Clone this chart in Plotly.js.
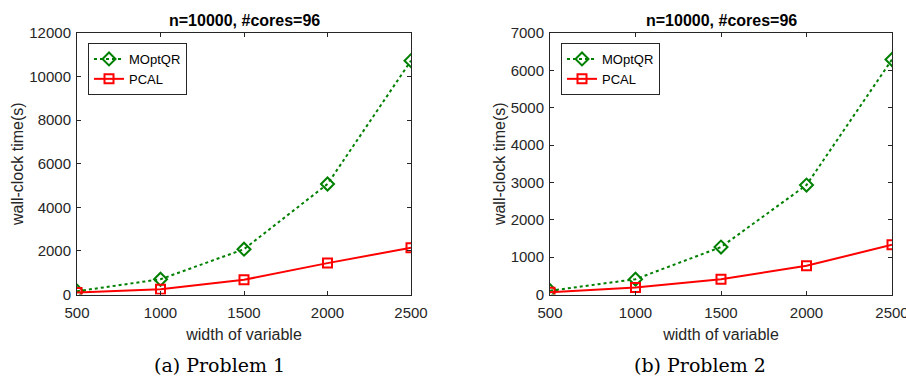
<!DOCTYPE html>
<html>
<head>
<meta charset="utf-8">
<script src="https://cdn.plot.ly/plotly-3.0.1.min.js"></script>
<style>html,body{margin:0;padding:0;background:#fff;}#chart{width:906px;height:377px;}</style>
</head>
<body>
<div id="chart"></div>
<script>
const widths = [500, 1000, 1500, 2000, 2500];
const xTickVals = [500, 1000, 1500, 2000, 2500];
const xTickText = ["500", "1000", "1500", "2000", "2500"];

const p1MOptQR = [150, 700, 2080, 5070, 10730];
const p1PCAL   = [90, 245, 675, 1440, 2145];
const p1YTicks = [0, 2000, 4000, 6000, 8000, 10000, 12000];
const p1YTickText = ["0", "2000", "4000", "6000", "8000", "10000", "12000"];

const p2MOptQR = [100, 410, 1270, 2930, 6290];
const p2PCAL   = [60, 190, 410, 770, 1330];
const p2YTicks = [0, 1000, 2000, 3000, 4000, 5000, 6000, 7000];
const p2YTickText = ["0", "1000", "2000", "3000", "4000", "5000", "6000", "7000"];

const titleText = "n=10000, #cores=96";
const xTitle = "width of variable";
const yTitle = "wall-clock time(s)";
const captions = ["(a) Problem 1", "(b) Problem 2"];

const GREEN = "#008000", RED = "#ff0000", AX = "#262626";
const FONT = "Liberation Sans, Arial, sans-serif";
const SERIF = "DejaVu Serif, Liberation Serif, serif";

function mkTraces(m, p, xa, ya, grp) {
  return [
    {x: widths, y: m, xaxis: xa, yaxis: ya, type: "scatter", mode: "lines+markers", name: "MOptQR",
     legend: grp, showlegend: true,
     line: {color: GREEN, width: 2, dash: "dot"},
     marker: {symbol: "diamond-open", size: 10, color: GREEN, line: {width: 2, color: GREEN}}},
    {x: widths, y: p, xaxis: xa, yaxis: ya, type: "scatter", mode: "lines+markers", name: "PCAL",
     legend: grp, showlegend: true,
     line: {color: RED, width: 2},
     marker: {symbol: "square-open", size: 9, color: RED, line: {width: 2, color: RED}}}
  ];
}

const traces = [].concat(
  mkTraces(p1MOptQR, p1PCAL, "x", "y", "legend"),
  mkTraces(p2MOptQR, p2PCAL, "x2", "y2", "legend2")
);

function xax(domain, anchor) {
  return {domain: domain, anchor: anchor, range: [500, 2500], tickvals: xTickVals, ticktext: xTickText,
    showline: true, linecolor: AX, linewidth: 1, mirror: "ticks", ticks: "inside", ticklen: 4,
    tickcolor: AX, showgrid: false, zeroline: false, ticklabeloverflow: "allow",
    ticklabelstandoff: 4,
    tickfont: {family: FONT, size: 15, color: AX},
    title: {text: xTitle, font: {family: FONT, size: 16, color: AX}, standoff: 9}};
}
function yax(domain, anchor, range, ticks, tt) {
  return {domain: domain, anchor: anchor, range: range, tickvals: ticks, ticktext: tt,
    showline: true, linecolor: AX, linewidth: 1, mirror: "ticks", ticks: "inside", ticklen: 4,
    tickcolor: AX, showgrid: false, zeroline: false, ticklabeloverflow: "allow",
    ticklabelstandoff: 2,
    tickfont: {family: FONT, size: 15, color: AX},
    title: {text: yTitle, font: {family: FONT, size: 16, color: AX}, standoff: 1}};
}

const yDom = [1 - 294.5/377, 1 - 33/377];
const legBase = {bgcolor: "#fff", bordercolor: AX, borderwidth: 1,
  font: {family: FONT, size: 13, color: "#000"}, xanchor: "left", yanchor: "top",
  tracegroupgap: 0, itemwidth: 30};

const layout = {
  width: 906, height: 377, margin: {l: 0, r: 0, t: 0, b: 0},
  paper_bgcolor: "#fff", plot_bgcolor: "#fff", showlegend: true,
  xaxis: xax([77/906, 411/906], "y"),
  yaxis: yax(yDom, "x", [0, 12000], p1YTicks, p1YTickText),
  xaxis2: xax([550/906, 892/906], "y2"),
  yaxis2: yax(yDom, "x2", [0, 7000], p2YTicks, p2YTickText),
  legend: Object.assign({}, legBase, {x: 88/906, y: 1 - 43/377}),
  legend2: Object.assign({}, legBase, {x: 561/906, y: 1 - 43/377}),
  annotations: [
    {text: "<b>" + titleText + "</b>", xref: "paper", yref: "paper", x: 244/906, y: 1 - 20.5/377,
     xanchor: "center", yanchor: "middle", showarrow: false, font: {family: FONT, size: 16, color: "#000"}},
    {text: "<b>" + titleText + "</b>", xref: "paper", yref: "paper", x: 721/906, y: 1 - 20.5/377,
     xanchor: "center", yanchor: "middle", showarrow: false, font: {family: FONT, size: 16, color: "#000"}},
    {text: captions[0], xref: "paper", yref: "paper", x: 219/906, y: 1 - 365/377,
     xanchor: "center", yanchor: "middle", showarrow: false, font: {family: SERIF, size: 19, color: "#000"}},
    {text: captions[1], xref: "paper", yref: "paper", x: 700/906, y: 1 - 365/377,
     xanchor: "center", yanchor: "middle", showarrow: false, font: {family: SERIF, size: 19, color: "#000"}}
  ]
};

Plotly.newPlot("chart", traces, layout, {displayModeBar: false, staticPlot: true});
</script>
</body>
</html>
